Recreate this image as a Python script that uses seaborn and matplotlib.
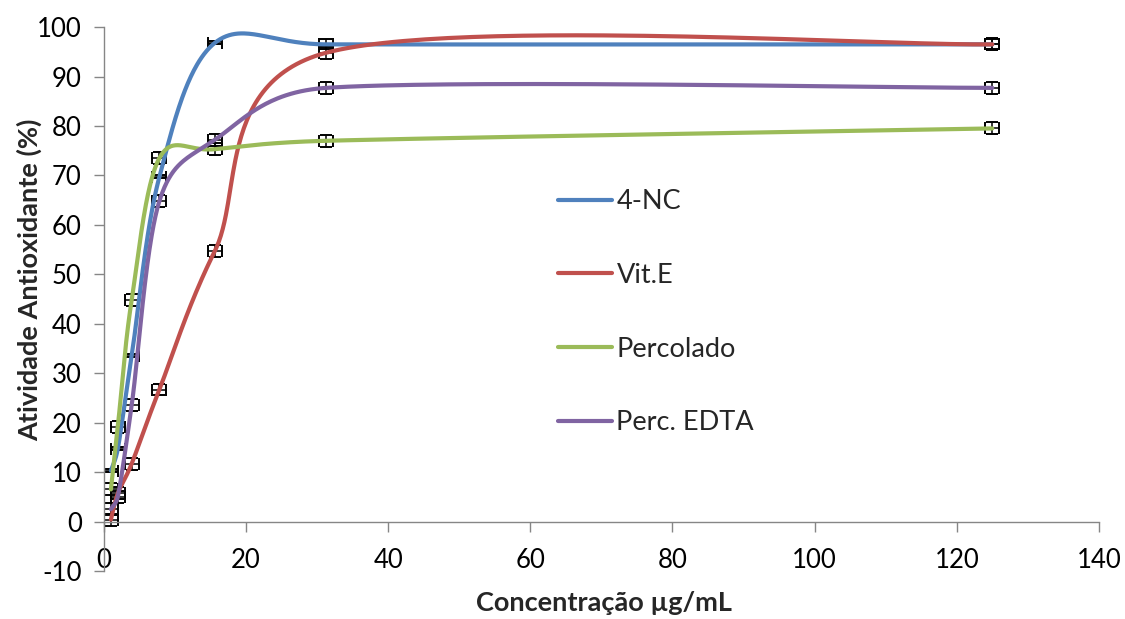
import numpy as np
import pandas as pd
import seaborn as sns
import matplotlib.pyplot as plt

# concentrações (µg/mL) e atividade antioxidante (%)
conc = [0.98, 1.95, 3.9, 7.8, 15.6, 31.25, 125]
nc4 = [10.3, 14.7, 33.5, 69.7, 96.8, 96.5, 96.5]
vit_e = [0.4, 5.7, 11.7, 26.7, 54.7, 94.8, 96.5]
percolado = [6.5, 19.2, 44.8, 73.5, 75.3, 77.0, 79.5]
perc_edta = [2.5, 5.0, 23.5, 64.8, 77.2, 87.7, 87.7]

# desvios
erro_x = [1.0, 1.0, 1.0, 1.0, 1.0, 1.0, 1.0]
erro_nc4 = [0.3, 0.3, 0.3, 0.3, 0.3, 1.0, 1.0]
erro_vit_e = [1.2, 1.2, 1.2, 1.2, 1.2, 1.2, 1.2]
erro_perc = [1.2, 1.2, 1.2, 1.2, 1.2, 1.2, 1.2]
erro_edta = [1.2, 1.2, 1.2, 1.2, 1.2, 1.2, 1.2]

series = ["4-NC", "Vit.E", "Percolado", "Perc. EDTA"]
valores = [nc4, vit_e, percolado, perc_edta]
erros = [erro_nc4, erro_vit_e, erro_perc, erro_edta]
cores = ["#4F81BD", "#C0504D", "#9BBB59", "#8064A2"]


def limitar(v, comp):
    n = np.hypot(*v)
    return v * (comp / n) if n > comp else v


# linha suavizada tipo Excel (Bezier em espaço de pixels)
def suavizar(x, y, sx, sy, n=60, frac=0.5):
    pts = np.column_stack([np.asarray(x) * sx, np.asarray(y) * sy])
    m = len(pts)
    t = np.linspace(0, 1, n)[:, None]
    partes = []
    for i in range(m - 1):
        p0 = pts[max(i - 1, 0)]
        p1 = pts[i]
        p2 = pts[i + 1]
        p3 = pts[min(i + 2, m - 1)]
        seg = np.hypot(*(p2 - p1))
        c1 = p1 + limitar((p2 - p0) / 6, frac * seg)
        c2 = p2 - limitar((p3 - p1) / 6, frac * seg)
        b = (1 - t) ** 3 * p1 + 3 * (1 - t) ** 2 * t * c1 + 3 * (1 - t) * t ** 2 * c2 + t ** 3 * p2
        partes.append(b if i == 0 else b[1:])
    curva = np.vstack(partes)
    return curva[:, 0] / sx, curva[:, 1] / sy


sns.set_theme(style="white")
plt.rcParams['font.family'] = ['Lato', 'DejaVu Sans']
plt.rcParams['axes.unicode_minus'] = False

fig = plt.figure(figsize=(11.25, 6.19), dpi=100)
ax = fig.add_axes([0.0924, 0.0775, 0.8844, 0.8788])

sx = 995 / 140
sy = 544 / 110
linhas = []
for nome, vals in zip(series, valores):
    xs, ys = suavizar(conc, vals, sx, sy)
    linhas.append(pd.DataFrame({"x": xs, "y": ys, "serie": nome}))
df = pd.concat(linhas, ignore_index=True)

sns.lineplot(data=df, x="x", y="y", hue="serie", hue_order=series,
             palette=cores, sort=False, estimator=None, linewidth=3,
             ax=ax, zorder=3)

for vals, err in zip(valores, erros):
    ax.errorbar(conc, vals, xerr=erro_x, yerr=err, fmt="none", ecolor="black",
                elinewidth=1.1, capsize=4.5, capthick=1.4, zorder=2)

ax.set_xlim(0, 140)
ax.set_ylim(-10, 100)
ax.set_xticks(np.arange(0, 141, 20))
ax.set_yticks(np.arange(-10, 101, 10))

for lado in ["top", "right"]:
    ax.spines[lado].set_visible(False)
ax.spines["bottom"].set_position(("data", 0))
for lado in ["left", "bottom"]:
    ax.spines[lado].set_color("#868686")
    ax.spines[lado].set_linewidth(1.0)

ax.tick_params(axis="y", direction="out", length=7, width=1, color="#868686",
               pad=9, labelsize=18.5, labelcolor="black", left=True)
ax.tick_params(axis="x", direction="out", length=7, width=1, color="#868686",
               pad=12, labelsize=18.5, labelcolor="black", bottom=True)

ax.set_xlabel("Concentração µg/mL", fontsize=19.5, fontweight="bold")
ax.set_ylabel("Atividade Antioxidante (%)", fontsize=19.5, fontweight="bold")
ax.xaxis.set_label_coords(0.5025, -0.036)
ax.yaxis.set_label_coords(-0.0623, 0.535)

handles, labels = ax.get_legend_handles_labels()
ax.legend(handles[:4], labels[:4], loc="upper left",
          bbox_to_anchor=(558 / 1125, 1 - 189 / 619), bbox_transform=fig.transFigure,
          frameon=False, fontsize=19.5, handlelength=1.98, handletextpad=0.18,
          labelspacing=1.8, borderpad=0, borderaxespad=0)

plt.savefig("out.png", dpi=100)
